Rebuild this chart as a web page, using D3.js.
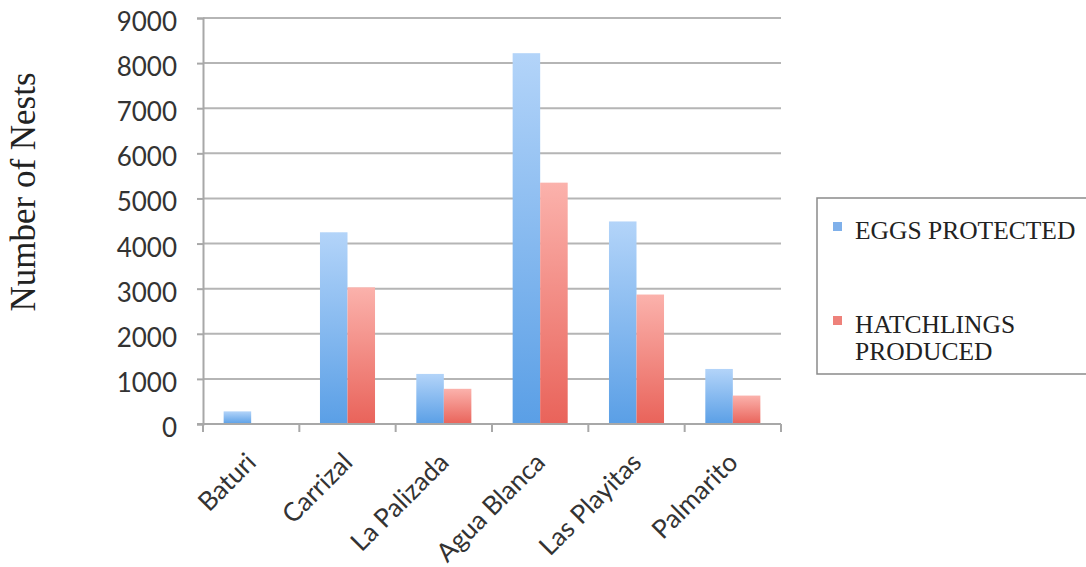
<!DOCTYPE html>
<html>
<head>
<meta charset="utf-8">
<script src="https://cdn.jsdelivr.net/npm/d3@7/dist/d3.min.js"></script>
<style>
  html, body { margin: 0; padding: 0; background: #fff; }
  svg { display: block; }
</style>
</head>
<body>
<svg id="chart" width="1086" height="567"></svg>
<script>
// Nesting beaches and counts per beach
const beaches = ["Baturi", "Carrizal", "La Palizada", "Agua Blanca", "Las Playitas", "Palmarito"];
const seriesNames = ["EGGS PROTECTED", "HATCHLINGS PRODUCED"];
const eggsProtected = [280, 4250, 1110, 8220, 4490, 1220];
const hatchlingsProduced = [0, 3030, 780, 5350, 2870, 630];
const yTicks = [0, 1000, 2000, 3000, 4000, 5000, 6000, 7000, 8000, 9000];
const yTitle = "Number of Nests";

const svg = d3.select("#chart");
const W = 1086, H = 567;
svg.append("rect").attr("width", W).attr("height", H).attr("fill", "#fff");

const plot = { left: 203, right: 781, top: 18, bottom: 424 };

const x0 = d3.scaleBand().domain(beaches).range([plot.left, plot.right]).padding(0);
const x1 = d3.scaleBand().domain(seriesNames).range([0, x0.bandwidth()])
  .paddingInner(0).paddingOuter(0.75);
const y = d3.scaleLinear().domain([0, 9000]).range([plot.bottom, plot.top]);

const seriesValues = [eggsProtected, hatchlingsProduced];

// Gradients for the bars (light at top, deeper at base)
const defs = svg.append("defs");
const grads = [
  { id: "gBlue", top: "#b3d4f9", bottom: "#5a9fe6" },
  { id: "gRed", top: "#fbb2ac", bottom: "#e9635a" }
];
grads.forEach(g => {
  const lg = defs.append("linearGradient").attr("id", g.id)
    .attr("x1", 0).attr("y1", 0).attr("x2", 0).attr("y2", 1);
  lg.append("stop").attr("offset", "0%").attr("stop-color", g.top);
  lg.append("stop").attr("offset", "100%").attr("stop-color", g.bottom);
});
const swatchColors = ["#7fb0ea", "#ee817a"];

// Horizontal gridlines
svg.append("g").selectAll("line").data(yTicks.filter(d => d > 0)).join("line")
  .attr("x1", plot.left).attr("x2", plot.right)
  .attr("y1", d => y(d)).attr("y2", d => y(d))
  .attr("stroke", "#b5b5b5").attr("stroke-width", 2);

// Y axis
const yAxis = d3.axisLeft(y).tickValues(yTicks).tickSize(6).tickPadding(20)
  .tickFormat(d3.format("d"));
const gy = svg.append("g").attr("transform", `translate(${plot.left},0)`).call(yAxis);
gy.select(".domain").attr("stroke", "#a8a8a8").attr("stroke-width", 2);
gy.selectAll(".tick line").attr("stroke", "#a8a8a8").attr("stroke-width", 2);
gy.selectAll(".tick text")
  .attr("font-family", "Lato, 'Open Sans', sans-serif")
  .attr("font-size", 26).attr("fill", "#333")
  .attr("dy", "0.48em").attr("x", -26);

// Bars
const groups = svg.append("g").selectAll("g").data(beaches).join("g")
  .attr("transform", d => `translate(${x0(d)},0)`);
groups.selectAll("rect")
  .data((d, i) => seriesNames.map((s, k) => ({ s, k, v: seriesValues[k][i] })))
  .join("rect")
  .filter(d => d.v > 0)
  .attr("x", d => x1(d.s))
  .attr("width", x1.bandwidth())
  .attr("y", d => y(d.v))
  .attr("height", d => y(0) - y(d.v))
  .attr("fill", d => `url(#${grads[d.k].id})`);

// X axis
const xAxisLine = svg.append("g");
xAxisLine.append("line")
  .attr("x1", plot.left - 6).attr("x2", plot.right)
  .attr("y1", plot.bottom).attr("y2", plot.bottom)
  .attr("stroke", "#a8a8a8").attr("stroke-width", 2);
const bounds = beaches.map(b => x0(b)).concat([plot.right]);
xAxisLine.selectAll("line.tk").data(bounds).join("line").attr("class", "tk")
  .attr("x1", d => d).attr("x2", d => d)
  .attr("y1", plot.bottom).attr("y2", plot.bottom + 8)
  .attr("stroke", "#a8a8a8").attr("stroke-width", 2);

// Category labels, rotated
svg.append("g").selectAll("text").data(beaches).join("text")
  .attr("transform", d => `translate(${x0(d) + x0.bandwidth() / 2 + 6.5},464) rotate(-45)`)
  .attr("text-anchor", "end")
  .attr("font-family", "Lato, 'Open Sans', sans-serif")
  .attr("font-size", 26).attr("fill", "#333")
  .text(d => d);

// Y axis title
svg.append("text")
  .attr("transform", "translate(35,192) rotate(-90)")
  .attr("text-anchor", "middle")
  .attr("font-family", "'Liberation Serif', 'DejaVu Serif', serif")
  .attr("font-size", 35).attr("fill", "#222")
  .text(yTitle);

// Legend
const lg = svg.append("g");
lg.append("rect")
  .attr("x", 817).attr("y", 198).attr("width", 300).attr("height", 176)
  .attr("fill", "#fff").attr("stroke", "#8a8a8a").attr("stroke-width", 1.5);
const legendFont = "'Liberation Serif', 'DejaVu Serif', serif";
const legendRows = [
  { lines: ["EGGS PROTECTED"], base: 239 },
  { lines: ["HATCHLINGS", "PRODUCED"], base: 333 }
];
legendRows.forEach((r, i) => {
  lg.append("rect").attr("x", 833).attr("y", r.base - 17).attr("width", 9).attr("height", 9)
    .attr("fill", swatchColors[i]);
  const t = lg.append("text")
    .attr("font-family", legendFont).attr("font-size", 25.5).attr("fill", "#222");
  r.lines.forEach((ln, j) => {
    t.append("tspan").attr("x", 855).attr("y", r.base + j * 27).text(ln);
  });
});
</script>
</body>
</html>
